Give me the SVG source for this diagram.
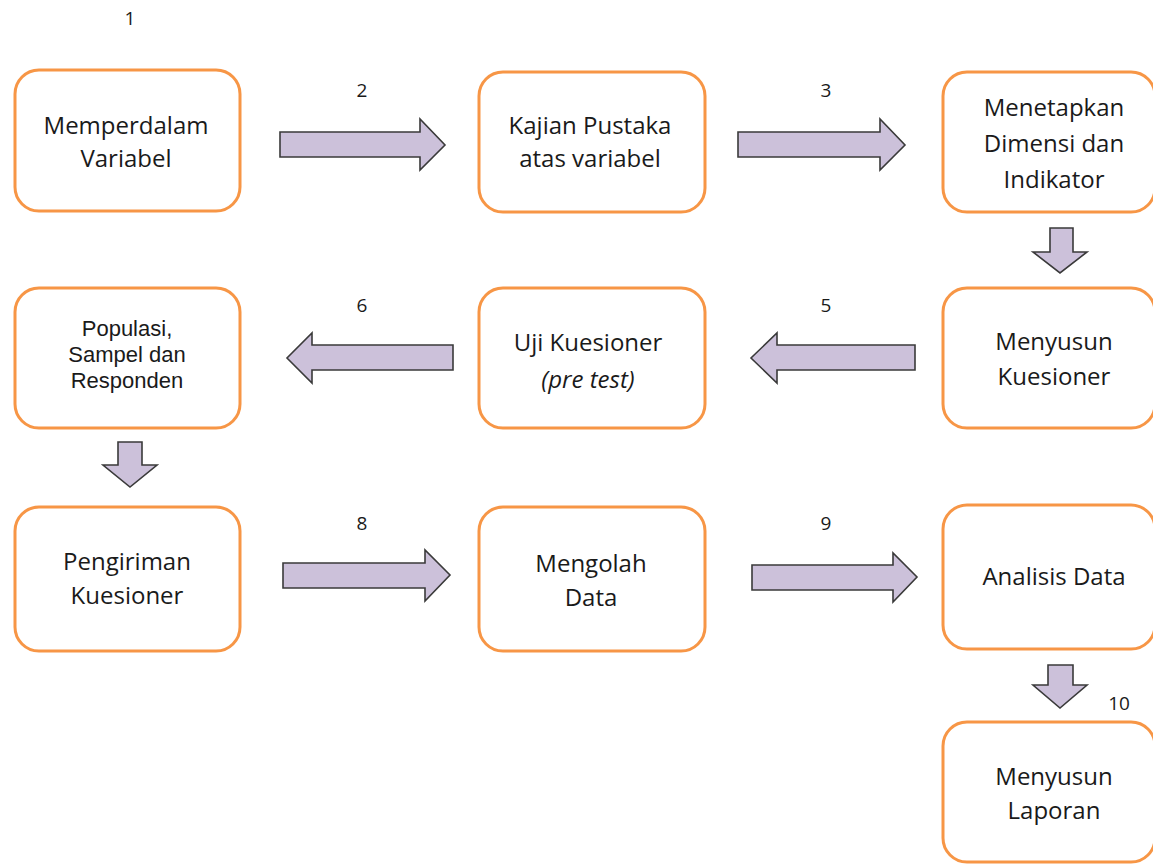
<svg xmlns="http://www.w3.org/2000/svg" width="1153" height="865" viewBox="0 0 1153 865">
<style>
.box{fill:#fff;stroke:#F79646;stroke-width:3}
.arr{fill:#CCC1DA;stroke:#3a3a3a;stroke-width:1.6;stroke-linejoin:miter}
.t{font-family:"Open Sans","Liberation Sans",sans-serif;font-size:24px;fill:#1a1a1a;text-anchor:middle}
.s{font-family:"Liberation Sans",sans-serif;font-size:22px}
.n{font-family:"Open Sans","Liberation Sans",sans-serif;font-size:19px;fill:#1a1a1a;text-anchor:middle}
</style>
<rect width="1153" height="865" fill="#fff"/>
<g id="labels">
<text class="n" x="130" y="25">1</text>
<text class="n" x="362" y="97">2</text>
<text class="n" x="826" y="97">3</text>
<text class="n" x="362" y="312">6</text>
<text class="n" x="826" y="312">5</text>
<text class="n" x="362" y="530">8</text>
<text class="n" x="826" y="530">9</text>
<text class="n" x="1119" y="710">10</text>
</g>
<g id="n1"><rect class="box" x="15" y="70" width="225" height="141" rx="24"/>
<text class="t" x="126" y="134">Memperdalam</text><text class="t" x="126" y="167">Variabel</text></g>
<g id="n2"><rect class="box" x="479" y="72" width="226" height="140" rx="24"/>
<text class="t" x="590" y="134">Kajian  Pustaka</text><text class="t" x="590" y="167">atas variabel</text></g>
<g id="n3"><rect class="box" x="943" y="72" width="212" height="140" rx="24"/>
<text class="t" x="1054" y="116">Menetapkan</text><text class="t" x="1054" y="152">Dimensi  dan</text><text class="t" x="1054" y="188">Indikator</text></g>
<g id="n4"><rect class="box" x="943" y="288" width="212" height="140" rx="24"/>
<text class="t" x="1054" y="350">Menyusun</text><text class="t" x="1054" y="385">Kuesioner</text></g>
<g id="n5"><rect class="box" x="479" y="288" width="226" height="140" rx="24"/>
<text class="t" x="588" y="351">Uji  Kuesioner</text><text class="t" x="588" y="388" font-style="italic">(pre test)</text></g>
<g id="n6"><rect class="box" x="15" y="288" width="225" height="140" rx="24"/>
<text class="t s" x="127" y="336">Populasi,</text><text class="t s" x="127" y="362">Sampel  dan</text><text class="t s" x="127" y="388">Responden</text></g>
<g id="n7"><rect class="box" x="15" y="507" width="225" height="144" rx="24"/>
<text class="t" x="127" y="570">Pengiriman</text><text class="t" x="127" y="604">Kuesioner</text></g>
<g id="n8"><rect class="box" x="479" y="507" width="226" height="144" rx="24"/>
<text class="t" x="591" y="572">Mengolah</text><text class="t" x="591" y="606">Data</text></g>
<g id="n9"><rect class="box" x="943" y="505" width="212" height="144" rx="24"/>
<text class="t" x="1054" y="585">Analisis  Data</text></g>
<g id="n10"><rect class="box" x="943" y="722" width="212" height="140" rx="24"/>
<text class="t" x="1054" y="785">Menyusun</text><text class="t" x="1054" y="819">Laporan</text></g>
<g id="connectors">
<polygon class="arr" points="280,132 420,132 420,119 445,145 420,170 420,157 280,157"/>
<polygon class="arr" points="738,132 880,132 880,119 905,145 880,170 880,157 738,157"/>
<polygon class="arr" points="1050,228 1073,228 1073,252 1087,252 1060,273 1033,252 1050,252"/>
<polygon class="arr" points="915,345 777,345 777,333 751,358 777,383 777,370 915,370"/>
<polygon class="arr" points="453,345 312,345 312,333 287,358 312,383 312,370 453,370"/>
<polygon class="arr" points="118,442 142,442 142,465 157,465 130,487 103,465 118,465"/>
<polygon class="arr" points="283,563 425,563 425,550 450,575 425,601 425,588 283,588"/>
<polygon class="arr" points="752,565 893,565 893,553 917,577 893,602 893,590 752,590"/>
<polygon class="arr" points="1048,665 1073,665 1073,685 1087,685 1060,708 1033,685 1048,685"/>
</g>
</svg>
